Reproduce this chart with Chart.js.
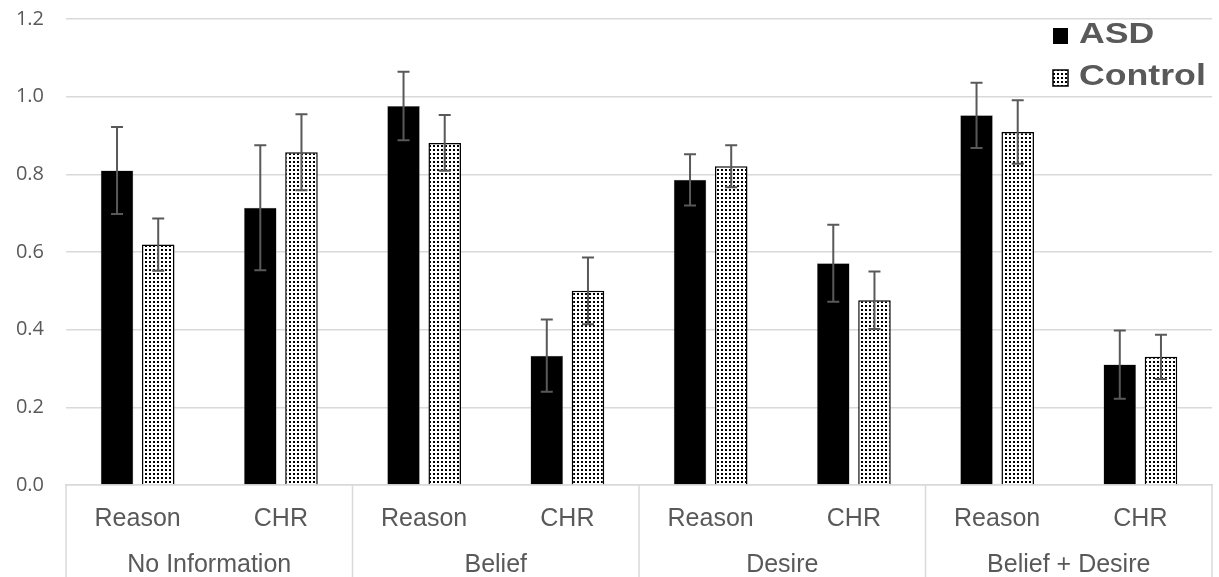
<!DOCTYPE html>
<html>
<head>
<meta charset="utf-8">
<script src="https://cdn.jsdelivr.net/npm/chart.js@4"></script>
<style>
  body { margin: 0; background: #fff; }
  #wrap { width: 1219px; height: 577px; position: relative; }
</style>
</head>
<body>
<div id="wrap"><canvas id="chart"></canvas></div>
<script>
const subLabels = ['Reason', 'CHR', 'Reason', 'CHR', 'Reason', 'CHR', 'Reason', 'CHR'];
const groupLabels = ['No Information', 'Belief', 'Desire', 'Belief + Desire'];
const asdValues = [0.81, 0.714, 0.976, 0.333, 0.786, 0.571, 0.952, 0.31];
const asdErr = [0.112, 0.161, 0.088, 0.093, 0.066, 0.099, 0.084, 0.088];
const controlValues = [0.619, 0.857, 0.881, 0.5, 0.821, 0.476, 0.909, 0.33];
const controlErr = [0.067, 0.098, 0.072, 0.086, 0.054, 0.074, 0.082, 0.057];
const yTicks = [0, 0.2, 0.4, 0.6, 0.8, 1.0, 1.2];

const textGray = '#595959';
const gridGray = '#d9d9d9';

// dotted fill for the Control bars
function dotPattern() {
    const c = document.createElement('canvas');
    c.width = 4; c.height = 4;
    const g = c.getContext('2d');
    g.fillStyle = '#fff';
    g.fillRect(0, 0, 4, 4);
    g.fillStyle = '#000';
    g.fillRect(1, 1, 2, 2);
    return g.createPattern(c, 'repeat');
}
const dots = dotPattern();

const errorBars = {
    id: 'errorBars',
    afterDatasetsDraw(chart) {
        const ctx = chart.ctx;
        const y = chart.scales.y;
        ctx.save();
        ctx.strokeStyle = textGray;
        ctx.lineWidth = 2;
        chart.data.datasets.forEach((ds, i) => {
            const meta = chart.getDatasetMeta(i);
            meta.data.forEach((bar, j) => {
                const v = ds.data[j], e = ds.err[j];
                const top = y.getPixelForValue(v + e);
                const bot = y.getPixelForValue(v - e);
                ctx.beginPath();
                ctx.moveTo(bar.x, top); ctx.lineTo(bar.x, bot);
                ctx.moveTo(bar.x - 6, top); ctx.lineTo(bar.x + 6, top);
                ctx.moveTo(bar.x - 6, bot); ctx.lineTo(bar.x + 6, bot);
                ctx.stroke();
            });
        });
        ctx.restore();
    }
};

const groupLines = {
    id: 'groupLines',
    afterDraw(chart) {
        const ctx = chart.ctx;
        const xs = chart.scales.x;
        const half = (xs.getPixelForValue(1) - xs.getPixelForValue(0)) / 2;
        ctx.save();
        ctx.strokeStyle = gridGray;
        ctx.lineWidth = 1.5;
        for (let g = 0; g <= groupLabels.length; g++) {
            const px = g < groupLabels.length ? xs.getPixelForValue(g * 2) - half
                                              : xs.getPixelForValue(subLabels.length - 1) + half;
            ctx.beginPath();
            ctx.moveTo(px, chart.chartArea.bottom);
            ctx.lineTo(px, chart.height);
            ctx.stroke();
        }
        ctx.restore();
    }
};

const cornerLegend = {
    id: 'cornerLegend',
    afterDraw(chart) {
        const ctx = chart.ctx;
        const right = chart.chartArea.right;
        const x0 = right - 159;
        ctx.save();
        chart.data.datasets.forEach((ds, i) => {
            const base = 43 + i * 42;
            ctx.fillStyle = ds.backgroundColor;
            ctx.fillRect(x0, base - 15, 15, 16);
            if (ds.borderWidth > 1) {
                ctx.strokeStyle = '#000';
                ctx.lineWidth = 1.5;
                ctx.strokeRect(x0, base - 15, 15, 16);
            }
            ctx.save();
            ctx.translate(x0 + 26, base);
            ctx.scale(1.23, 1);
            ctx.fillStyle = textGray;
            ctx.font = 'bold 29px "Liberation Sans", Arial, sans-serif';
            ctx.textBaseline = 'alphabetic';
            ctx.fillText(ds.label, 0, 0);
            ctx.restore();
        });
        ctx.restore();
    }
};

const labelFont = { family: '"Liberation Sans", Arial, sans-serif', size: 25 };

new Chart(document.getElementById('chart'), {
    type: 'bar',
    data: {
        labels: subLabels,
        datasets: [
            {
                label: 'ASD',
                data: asdValues,
                err: asdErr,
                backgroundColor: '#000',
                borderColor: '#7f7f7f',
                borderWidth: 0.5,
                categoryPercentage: 0.575,
                barPercentage: 0.79
            },
            {
                label: 'Control',
                data: controlValues,
                err: controlErr,
                backgroundColor: dots,
                borderColor: '#000',
                borderWidth: 1.5,
                categoryPercentage: 0.575,
                barPercentage: 0.79
            }
        ]
    },
    options: {
        responsive: true,
        maintainAspectRatio: false,
        animation: false,
        layout: { padding: { top: 19, right: 7, left: 0, bottom: 0 } },
        plugins: {
            legend: { display: false },
            tooltip: { enabled: false }
        },
        scales: {
            x: {
                offset: true,
                weight: 0,
                grid: { display: false },
                border: { display: true, color: gridGray, width: 1.5 },
                ticks: { color: textGray, font: labelFont, padding: 11, maxRotation: 0, autoSkip: false },
                afterFit: s => { s.height = 46; }
            },
            x2: {
                type: 'category',
                labels: groupLabels,
                position: 'bottom',
                offset: true,
                weight: 1,
                grid: { display: false },
                border: { display: false },
                ticks: { color: textGray, font: labelFont, padding: 11, maxRotation: 0, autoSkip: false },
                afterFit: s => { s.height = 46; }
            },
            y: {
                min: 0,
                max: 1.2,
                afterBuildTicks: s => { s.ticks = yTicks.map(v => ({ value: v })); },
                ticks: {
                    color: textGray,
                    padding: 22,
                    font: { family: '"Open Sans", sans-serif', size: 20 },
                    callback: v => Number(v).toFixed(1)
                },
                grid: { color: gridGray, lineWidth: 1.5, drawTicks: false },
                border: { display: false },
                afterFit: s => { s.width = 66; s.paddingTop = 0; s.paddingBottom = 0; }
            }
        }
    },
    plugins: [errorBars, groupLines, cornerLegend]
});
</script>
</body>
</html>
